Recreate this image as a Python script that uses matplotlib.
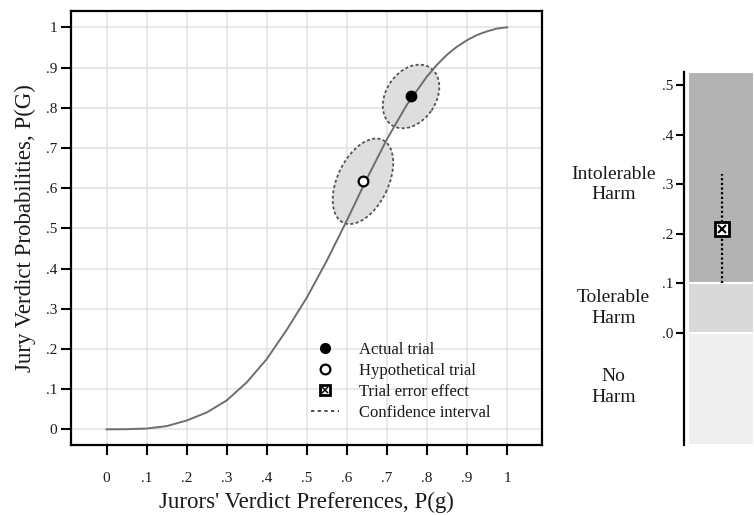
import matplotlib
matplotlib.use('Agg')
import matplotlib.pyplot as plt
from matplotlib.patches import Ellipse
from matplotlib.lines import Line2D
from matplotlib.legend_handler import HandlerTuple
from matplotlib.transforms import blended_transform_factory

plt.rcParams['font.family'] = ['Liberation Serif', 'DejaVu Serif']

# jurors' preference -> jury verdict probability
pref = [0, .05, .1, .15, .2, .25, .3, .35, .4, .45, .5,
        .55, .6, .65, .7, .75, .8, .825, .85, .875, .9, .925, .95, .975, 1]
prob = [0, .0003, .002, .008, .022, .042, .072, .117, .175, .248, .328,
        .420, .520, .624, .722, .808, .878, .907, .932, .952, .968, .981,
        .990, .997, 1.0]

actual = (0.76, 0.828)
hypo = (0.64, 0.617)
# confidence ellipses: width, height, angle
actual_ci = (0.172, 0.124, 55.6)
hypo_ci = (0.228, 0.127, 64.3)

tick_vals = [0, .1, .2, .3, .4, .5, .6, .7, .8, .9, 1]
tick_labels = ['0', '.1', '.2', '.3', '.4', '.5', '.6', '.7', '.8', '.9', '1']

# trial error effect panel
effect = 0.21
effect_ci = [0.10, 0.32]
harm_lo = [-0.227, 0.0, 0.1]
harm_hi = [0.0, 0.1, 0.526]
harm_colors = ['#efefef', '#d9d9d9', '#b3b3b3']
harm_labels = ['No\nHarm', 'Tolerable\nHarm', 'Intolerable\nHarm']
harm_label_y = [-0.11, 0.05, 0.30]
eff_ticks = [0, .1, .2, .3, .4, .5]
eff_tick_labels = ['.0', '.1', '.2', '.3', '.4', '.5']

txt = '#1a1a1a'

fig = plt.figure(figsize=(7.54, 5.15), dpi=100)
ax = fig.add_axes([0.0946, 0.1359, 0.6248, 0.8427])

ax.plot(pref, prob, color='#6e6e6e', lw=1.4, zorder=3)
for (cx, cy), (w, h, ang) in [(actual, actual_ci), (hypo, hypo_ci)]:
    ax.add_patch(Ellipse((cx, cy), w, h, angle=ang, facecolor='#dedede',
                         edgecolor='#555555', ls=(0, (1.7, 1.3)), lw=1.3,
                         zorder=2))
ax.plot(*actual, 'o', ms=7.5, color='black', zorder=4)
ax.plot(*hypo, 'o', ms=7, mfc='white', mec='black', mew=1.6, zorder=4)

ax.set_xlim(-0.088, 1.088)
ax.set_ylim(-0.039, 1.0405)
ax.set_xticks(tick_vals)
ax.set_xticklabels(tick_labels)
ax.set_yticks(tick_vals)
ax.set_yticklabels(tick_labels)
ax.tick_params(axis='both', direction='out', length=7, width=1.5,
               labelsize=11, labelcolor=txt)
ax.tick_params(axis='x', pad=12.5)
ax.tick_params(axis='y', pad=3)
ax.grid(True, color='#e4e4e4', lw=1.2)
ax.set_axisbelow(True)
for s in ax.spines.values():
    s.set_linewidth(1.6)
ax.set_xlabel("Jurors' Verdict Preferences, P(g)", fontsize=16.5,
              color=txt, labelpad=4.5)
ax.set_ylabel('Jury Verdict Probabilities, P(G)', fontsize=16.5,
              color=txt, labelpad=7)

h1 = Line2D([], [], marker='o', ls='none', color='black', ms=7)
h2 = Line2D([], [], marker='o', ls='none', mfc='white', mec='black',
            mew=1.6, ms=7)
h3 = (Line2D([], [], marker='s', ls='none', mfc='white', mec='black',
             mew=2, ms=7),
      Line2D([], [], marker='x', ls='none', color='black', ms=4, mew=1.1))
h4 = Line2D([], [], ls=(0, (2, 2)), color='#333333', lw=1.2)
ax.legend([h1, h2, h3, h4],
          ['Actual trial', 'Hypothetical trial', 'Trial error effect',
           'Confidence interval'],
          handler_map={tuple: HandlerTuple(ndivide=1)},
          loc='upper left', bbox_to_anchor=(0.508, 0.237), frameon=False,
          fontsize=12, handlelength=1.7, handletextpad=1.2,
          labelspacing=0.3, borderpad=0, borderaxespad=0,
          labelcolor=txt)

# right panel
ax2 = fig.add_axes([0.9076, 0.1359, 0.0924, 0.7237])
for lo, hi, c in zip(harm_lo, harm_hi, harm_colors):
    ax2.axhspan(lo, hi, xmin=0.05, xmax=1, facecolor=c, edgecolor='white',
                lw=1.5)
ax2.plot([0, 0], effect_ci, ls=(0, (1, 1.1)), color='black', lw=1.6,
         zorder=3)
ax2.plot(0, effect, marker='s', ms=9.5, mfc='white', mec='black', mew=2,
         zorder=4)
ax2.plot(0, effect, marker='x', ms=6, color='black', mew=1.5, zorder=5)
ax2.set_xlim(-0.545, 0.455)
ax2.set_ylim(-0.227, 0.526)
ax2.set_xticks([])
ax2.set_yticks(eff_ticks)
ax2.set_yticklabels(eff_tick_labels)
ax2.tick_params(axis='y', direction='out', length=6, width=1.5, pad=2,
                labelsize=11, labelcolor=txt)
for side in ['top', 'right', 'bottom']:
    ax2.spines[side].set_visible(False)
ax2.spines['left'].set_linewidth(1.6)
tr = blended_transform_factory(fig.transFigure, ax2.transData)
for lab, y in zip(harm_labels, harm_label_y):
    ax2.text(0.8134, y, lab, transform=tr, ha='center', va='center',
             fontsize=14, linespacing=1.25, color=txt)

fig.savefig('out.png', dpi=100)
